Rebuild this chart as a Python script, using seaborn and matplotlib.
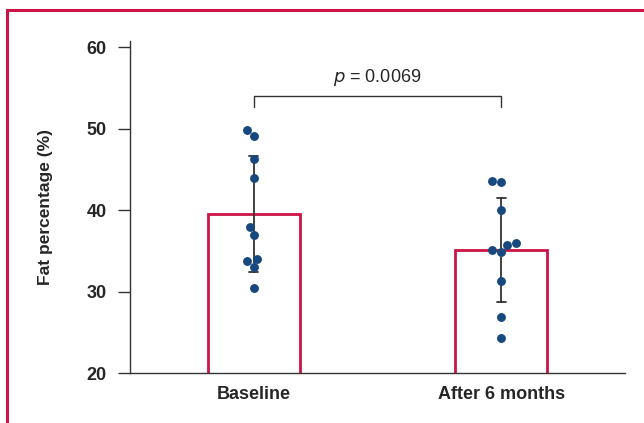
import pandas as pd
import seaborn as sns
import matplotlib
import matplotlib.pyplot as plt
from matplotlib.patches import Rectangle
matplotlib.use('Agg')

# Values
groups = ["Baseline", "After 6 months"]
baseline = [49.8, 49.1, 46.3, 43.9, 37.9, 36.9, 34.0, 33.7, 33.0, 30.4]
after_6m = [43.6, 43.4, 40.0, 35.9, 35.7, 35.1, 34.8, 31.3, 26.9, 24.3]
p_text = "$\\it{p}$ = 0.0069"
y_ticks = [20, 30, 40, 50, 60]

red = "#cc1447"
blue = "#17497f"
dark = "#333333"


def main():
    df = pd.DataFrame({
        "group": [groups[0]] * len(baseline) + [groups[1]] * len(after_6m),
        "fat": baseline + after_6m,
    })

    sns.set_style("white")
    plt.rcParams["font.family"] = ["Liberation Sans", "DejaVu Sans"]

    fig = plt.figure(figsize=(6.44, 4.23), dpi=100)
    ax = fig.add_axes([130 / 644, 1 - 373 / 423, 495 / 644, 332.5 / 423])

    # Bars with mean +/- SD
    sns.barplot(data=df, x="group", y="fat", order=groups, errorbar="sd",
                width=0.37, color="white", edgecolor=red, linewidth=2,
                capsize=0.035, err_kws={"color": dark, "linewidth": 1.3},
                ax=ax, zorder=2)
    # Individual points
    sns.swarmplot(data=df, x="group", y="fat", order=groups, color=blue,
                  size=6.4, ax=ax, zorder=4)

    ax.set_xlim(-0.5, 1.5)
    ax.set_ylim(20, 60.8)
    ax.set_yticks(y_ticks)
    ax.set_yticklabels([str(t) for t in y_ticks], fontweight="bold", fontsize=13)
    ax.set_xticks([0, 1])
    ax.set_xticklabels(groups, fontweight="bold", fontsize=13)
    ax.set_xticks([-0.5, 0.5, 1.5], minor=True)
    ax.tick_params(axis="x", which="major", length=0, pad=9)
    ax.tick_params(axis="x", which="minor", length=6, width=1, color=dark, direction="out")
    ax.tick_params(axis="y", length=9, width=1, color=dark, direction="out", pad=8,
                   left=True)
    ax.set_xlabel("")
    ax.set_ylabel("Fat percentage (%)", fontweight="bold", fontsize=12.5, labelpad=24)

    for side in ["top", "right"]:
        ax.spines[side].set_visible(False)
    for side in ["left", "bottom"]:
        ax.spines[side].set_color(dark)
        ax.spines[side].set_linewidth(1)

    # Significance bracket
    ax.plot([0, 0, 1, 1], [52.6, 54.0, 54.0, 52.6], color=dark, linewidth=1,
            clip_on=False)
    ax.text(0.5, 55.0, p_text, ha="center", va="bottom", fontsize=13)

    # Red frame around the figure (right and bottom sides cut off)
    fig.patches.append(Rectangle((7 / 644, -0.2), 1.2, 1.2 - 10 / 423,
                                 transform=fig.transFigure, fill=False,
                                 edgecolor=red, linewidth=2.2))

    plt.savefig("out.png", dpi=100)


if __name__ == "__main__":
    main()
